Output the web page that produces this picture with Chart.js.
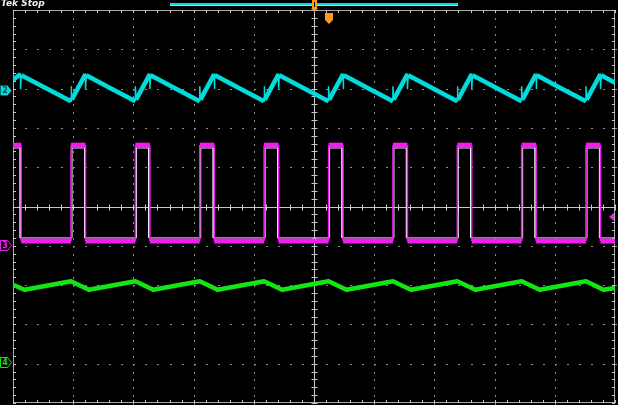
<!DOCTYPE html>
<html>
<head>
<meta charset="utf-8">
<script src="https://cdn.jsdelivr.net/npm/chart.js@4/dist/chart.umd.min.js"></script>
<style>
  html, body { margin: 0; padding: 0; background: #000; overflow: hidden; }
  canvas { display: block; }
</style>
</head>
<body>
<canvas id="scope" width="618" height="405"></canvas>
<script>
// x = time in divisions (0..10), y = divisions from centre (-5..5)

// ch2, cyan sawtooth
const cyanT = [0, 0.125, 0.125, 0.137, 0.55,
  0.964, 0.964, 0.976, 1.205, 1.205, 1.217, 1.62,
  2.033, 2.033, 2.045, 2.274, 2.274, 2.286, 2.69,
  3.102, 3.102, 3.114, 3.343, 3.343, 3.355, 3.76,
  4.171, 4.171, 4.183, 4.412, 4.412, 4.424, 4.83,
  5.242, 5.242, 5.254, 5.483, 5.483, 5.495, 5.90,
  6.311, 6.311, 6.323, 6.552, 6.552, 6.564, 6.97,
  7.380, 7.380, 7.392, 7.621, 7.621, 7.633, 8.04,
  8.449, 8.449, 8.461, 8.690, 8.690, 8.702, 9.10,
  9.518, 9.518, 9.530, 9.759, 9.759, 9.771, 10];
const cyanV = [3.22, 3.37, 3.0, 3.34, 3.01,
  2.68, 3.05, 2.72, 3.37, 3.0, 3.34, 3.01,
  2.68, 3.05, 2.72, 3.37, 3.0, 3.34, 3.01,
  2.68, 3.05, 2.72, 3.37, 3.0, 3.34, 3.01,
  2.68, 3.05, 2.72, 3.37, 3.0, 3.34, 3.01,
  2.68, 3.05, 2.72, 3.37, 3.0, 3.34, 3.01,
  2.68, 3.05, 2.72, 3.37, 3.0, 3.34, 3.01,
  2.68, 3.05, 2.72, 3.37, 3.0, 3.34, 3.01,
  2.68, 3.05, 2.72, 3.37, 3.0, 3.34, 3.01,
  2.68, 3.05, 2.72, 3.37, 3.0, 3.34, 3.15];

// ch3, magenta pulse
const magentaT = [0, 0.136, 0.136, 0.964, 0.964, 1.205, 1.205, 2.033, 2.033, 2.274,
  2.274, 3.102, 3.102, 3.343, 3.343, 4.171, 4.171, 4.412, 4.412, 5.242,
  5.242, 5.483, 5.483, 6.311, 6.311, 6.552, 6.552, 7.380, 7.380, 7.621,
  7.621, 8.449, 8.449, 8.690, 8.690, 9.518, 9.518, 9.759, 9.759, 10];
const magentaV = [1.56, 1.56, -0.88, -0.88, 1.56, 1.56, -0.88, -0.88, 1.56, 1.56,
  -0.88, -0.88, 1.56, 1.56, -0.88, -0.88, 1.56, 1.56, -0.88, -0.88,
  1.56, 1.56, -0.88, -0.88, 1.56, 1.56, -0.88, -0.88, 1.56, 1.56,
  -0.88, -0.88, 1.56, 1.56, -0.88, -0.88, 1.56, 1.56, -0.88, -0.88];

// white reference trace under the pulse
const whiteT = [0, 0.119, 0.119, 0.981, 0.981, 1.188, 1.188, 2.050, 2.050, 2.257,
  2.257, 3.119, 3.119, 3.326, 3.326, 4.188, 4.188, 4.395, 4.395, 5.259,
  5.259, 5.466, 5.466, 6.328, 6.328, 6.535, 6.535, 7.397, 7.397, 7.604,
  7.604, 8.466, 8.466, 8.673, 8.673, 9.535, 9.535, 9.742, 9.742, 10];
const whiteV = [1.49, 1.49, -0.80, -0.80, 1.49, 1.49, -0.80, -0.80, 1.49, 1.49,
  -0.80, -0.80, 1.49, 1.49, -0.80, -0.80, 1.49, 1.49, -0.80, -0.80,
  1.49, 1.49, -0.80, -0.80, 1.49, 1.49, -0.80, -0.80, 1.49, 1.49,
  -0.80, -0.80, 1.49, 1.49, -0.80, -0.80, 1.49, 1.49, -0.80, -0.80];

// ch4, green triangle
const greenT = [0, 0.19, 0.964, 1.26, 2.033, 2.33, 3.102, 3.40, 4.171, 4.47,
  5.242, 5.54, 6.311, 6.61, 7.380, 7.68, 8.449, 8.75, 9.518, 9.81, 10];
const greenV = [-1.99, -2.12, -1.90, -2.12, -1.90, -2.12, -1.90, -2.12, -1.90, -2.12,
  -1.90, -2.12, -1.90, -2.12, -1.90, -2.12, -1.90, -2.12, -1.90, -2.12, -2.07];

// channel ground markers on the left edge
const markerLabels = ['2', '3', '4'];
const markerLevels = [2.96, -0.98, -3.96];
const markerColors = ['#00dcdc', '#f01ef0', '#14e614'];
const trigLevel = -0.27;
const trigTime = 5.0;

const pts = ( t, v ) => t.map( ( x, i ) => ({ x: x, y: v[ i ] }) );
// steep edges and spikes are drawn thin, the rest thick
const edgeWidth = ( thin, thick ) => c =>
{
    const dx = Math.abs( c.p1.parsed.x - c.p0.parsed.x );
    const dy = Math.abs( c.p1.parsed.y - c.p0.parsed.y );
    return dy > dx * 10 ? thin : thick;
};

const scopeGrid = {
    id: 'scopeGrid',
    beforeDatasetsDraw( chart )
    {
        const { ctx, chartArea: a, scales: { x, y } } = chart;
        ctx.save();
        // dotted division lines
        ctx.fillStyle = '#8c8c8c';
        for ( let i = 1; i < 10; i++ )
        {
            if ( i === 5 ) continue;
            const px = Math.round( x.getPixelForValue( i ) );
            for ( let k = 0; k <= 50; k++ )
                ctx.fillRect( px, Math.round( y.getPixelForValue( -5 + k * 0.2 ) ), 1, 2 );
        }
        for ( let j = -4; j <= 4; j++ )
        {
            if ( j === 0 ) continue;
            const py = Math.round( y.getPixelForValue( j ) );
            for ( let k = 0; k <= 50; k++ )
                ctx.fillRect( Math.round( x.getPixelForValue( k * 0.2 ) ), py, 2, 1 );
        }
        // frame
        ctx.strokeStyle = '#a8a8a8';
        ctx.lineWidth = 1;
        ctx.strokeRect( a.left + 0.5, a.top + 0.5, a.width - 1, a.height - 1 );
        // centre cross
        const cx = Math.round( x.getPixelForValue( 5 ) ) + 0.5;
        const cy = Math.round( y.getPixelForValue( 0 ) ) + 0.5;
        ctx.strokeStyle = '#c8c8c8';
        ctx.beginPath();
        ctx.moveTo( cx, a.top ); ctx.lineTo( cx, a.bottom );
        ctx.moveTo( a.left, cy ); ctx.lineTo( a.right, cy );
        ctx.stroke();
        // ticks
        ctx.beginPath();
        for ( let k = 0; k <= 50; k++ )
        {
            const px = Math.round( x.getPixelForValue( k * 0.2 ) ) + 0.5;
            const py = Math.round( y.getPixelForValue( -5 + k * 0.2 ) ) + 0.5;
            ctx.moveTo( px, a.top ); ctx.lineTo( px, a.top + 3 );
            ctx.moveTo( px, a.bottom ); ctx.lineTo( px, a.bottom - 3 );
            ctx.moveTo( px, cy - 3 ); ctx.lineTo( px, cy + 3 );
            ctx.moveTo( a.left, py ); ctx.lineTo( a.left + 3, py );
            ctx.moveTo( a.right, py ); ctx.lineTo( a.right - 3, py );
            ctx.moveTo( cx - 3, py ); ctx.lineTo( cx + 3, py );
        }
        ctx.stroke();
        ctx.restore();
    },
    afterDraw( chart )
    {
        const { ctx, chartArea: a, scales: { x, y } } = chart;
        ctx.save();
        // channel markers
        ctx.font = 'bold 8px "DejaVu Sans"';
        ctx.textAlign = 'center';
        ctx.textBaseline = 'middle';
        markerLevels.forEach( ( lv, i ) =>
        {
            const py = Math.round( y.getPixelForValue( lv ) ) + 0.5;
            ctx.beginPath();
            ctx.moveTo( 0.5, py - 5 ); ctx.lineTo( 7.5, py - 5 );
            ctx.lineTo( 11.5, py ); ctx.lineTo( 7.5, py + 5 );
            ctx.lineTo( 0.5, py + 5 ); ctx.closePath();
            if ( i === 0 )
            {
                ctx.fillStyle = markerColors[ i ];
                ctx.fill();
                ctx.fillStyle = '#1a4a50';
            }
            else
            {
                ctx.strokeStyle = markerColors[ i ];
                ctx.lineWidth = 1;
                ctx.stroke();
                ctx.fillStyle = markerColors[ i ];
            }
            ctx.fillText( markerLabels[ i ], 5, py + 0.5 );
        });
        // trigger level arrow, right side
        const ty = Math.round( y.getPixelForValue( trigLevel ) );
        ctx.fillStyle = '#f01ef0';
        ctx.beginPath();
        ctx.moveTo( a.right - 6, ty ); ctx.lineTo( a.right - 1, ty - 4 );
        ctx.lineTo( a.right - 1, ty + 4 ); ctx.closePath();
        ctx.fill();
        // record bar at top
        ctx.fillStyle = '#00dcdc';
        ctx.fillRect( 170, 3, 288, 2 );
        ctx.fillStyle = '#d0d0d0';
        ctx.fillRect( 170, 5, 288, 1 );
        // trigger position marker
        const tx = Math.round( x.getPixelForValue( trigTime ) );
        ctx.fillStyle = '#ff9a1a';
        ctx.fillRect( tx - 2, 0, 5, 8 );
        ctx.beginPath();
        ctx.moveTo( tx - 3, 8 ); ctx.lineTo( tx + 4, 8 ); ctx.lineTo( tx + 0.5, 12 );
        ctx.closePath(); ctx.fill();
        ctx.fillStyle = '#000';
        ctx.fillRect( tx, 2, 1, 5 );
        ctx.fillStyle = '#ff9a1a';
        ctx.beginPath();
        ctx.moveTo( tx + 11, 13 ); ctx.lineTo( tx + 19, 13 ); ctx.lineTo( tx + 19, 20 );
        ctx.lineTo( tx + 15, 24 ); ctx.lineTo( tx + 11, 20 ); ctx.closePath();
        ctx.fill();
        // status text, clipped at the top
        ctx.fillStyle = '#f0f0f0';
        ctx.font = 'italic bold 9px "DejaVu Sans"';
        ctx.textAlign = 'left';
        ctx.textBaseline = 'alphabetic';
        ctx.fillText( 'Tek Stop', 1, 6 );
        ctx.restore();
    }
};

const chart = new Chart( document.getElementById( 'scope' ), {
    type: 'line',
    data: {
        datasets: [
            {
                label: 'CH2',
                data: pts( cyanT, cyanV ),
                borderColor: '#00dcdc',
                borderWidth: 4.5,
                borderJoinStyle: 'round',
                segment: { borderWidth: edgeWidth( 1.5, 4.5 ) },
            },
            {
                label: 'CH4',
                data: pts( greenT, greenV ),
                borderColor: '#14e614',
                borderWidth: 4.5,
                borderJoinStyle: 'round',
            },
            {
                label: 'CH3',
                data: pts( magentaT, magentaV ),
                borderColor: '#f01ef0',
                borderWidth: 5,
                segment: { borderWidth: edgeWidth( 1.5, 5 ) },
            },
            {
                label: 'REF',
                data: pts( whiteT, whiteV ),
                borderColor: '#f4f4f4',
                borderWidth: 1,
            },
        ],
    },
    options: {
        responsive: false,
        animation: false,
        devicePixelRatio: 1,
        layout: { padding: { left: 13, right: 3, top: 10, bottom: 2 } },
        elements: { point: { radius: 0 }, line: { tension: 0, fill: false } },
        scales: {
            x: { type: 'linear', min: 0, max: 10, display: false },
            y: { type: 'linear', min: -5, max: 5, display: false },
        },
        plugins: {
            legend: { display: false },
            tooltip: { enabled: false },
        },
    },
    plugins: [ scopeGrid ],
});
</script>
</body>
</html>
